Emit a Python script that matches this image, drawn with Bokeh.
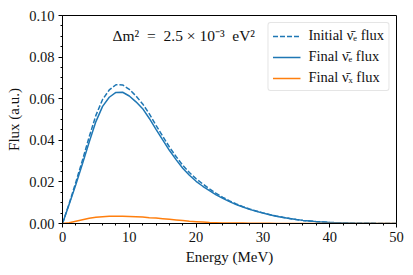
from bokeh.plotting import figure
from bokeh.models import FixedTicker, Label, Legend, LegendItem, NumeralTickFormatter
from bokeh.embed import file_html
from bokeh.resources import INLINE

energy = list(range(0, 51))
initial_flux = [0, 0.0096, 0.0199, 0.0306, 0.0417, 0.0520, 0.0596, 0.0642, 0.0667, 0.0666,
                0.0645, 0.0613, 0.0575, 0.0527, 0.0472, 0.0420, 0.0368, 0.0322, 0.0280, 0.0245,
                0.0215, 0.0190, 0.0166, 0.0145, 0.0126, 0.0109, 0.0094, 0.0081, 0.0070, 0.0060,
                0.0051, 0.0043, 0.0036, 0.0030, 0.0024, 0.0019, 0.0015, 0.0012, 0.0009, 0.0007,
                0.0005, 0.0004, 0.0003, 0.0002, 0.00015, 0.0001, 0.00008, 0.00006, 0.00004, 0.00003, 0.00002]
final_e_flux = [0, 0.0092, 0.0188, 0.0288, 0.0392, 0.0490, 0.0563, 0.0607, 0.0630, 0.0631,
                0.0613, 0.0585, 0.0552, 0.0505, 0.0453, 0.0402, 0.0352, 0.0307, 0.0266, 0.0232,
                0.0203, 0.0179, 0.0158, 0.0138, 0.0121, 0.0105, 0.0091, 0.0079, 0.0068, 0.0059,
                0.0050, 0.0042, 0.0035, 0.0029, 0.0024, 0.0019, 0.0015, 0.0012, 0.0009, 0.0007,
                0.0005, 0.0004, 0.0003, 0.0002, 0.00015, 0.0001, 0.00008, 0.00006, 0.00004, 0.00003, 0.00002]
final_x_flux = [0, 0.0004, 0.0011, 0.0018, 0.0025, 0.0030, 0.0033, 0.0035, 0.0035, 0.0035,
                0.0034, 0.0033, 0.0031, 0.0028, 0.0026, 0.0023, 0.0020, 0.0017, 0.0014, 0.0011,
                0.0009, 0.0007, 0.0005, 0.0004, 0.0003, 0.0003, 0.0002, 0.0002, 0.0001, 0.0001,
                0.0001, 0.00008, 0.00006, 0.00005, 0.00004, 0.00003, 0.00002, 0.00002, 0.00001, 0.00001,
                0, 0, 0, 0, 0, 0, 0, 0, 0, 0, 0]

series_labels = ["Initial \u03bd\u0304\u2091 flux", "Final \u03bd\u0304\u2091 flux", "Final \u03bd\u0304\u2093 flux"]
x_major = [0, 10, 20, 30, 40, 50]
x_minor = [v for v in range(0, 51, 2) if v % 10]
y_major = [0.0, 0.02, 0.04, 0.06, 0.08, 0.10]
y_minor = [round(0.005 * i, 3) for i in range(21) if i % 4]
annotation = "\u0394m\u00b2\u2002=\u20022.5\u2005\u00d7\u200510\u207b\u00b3\u2002eV\u00b2"

FONT = "Liberation Serif"
BLUE = "#1f77b4"
ORANGE = "#ff7f0e"
TXT = "#111111"

p = figure(width=405, height=268, output_backend="svg", toolbar_location=None,
           x_range=(0, 50), y_range=(0, 0.10),
           min_border_left=62, min_border_right=9, min_border_top=15, min_border_bottom=45)
p.grid.visible = False
p.outline_line_color = "black"
p.outline_line_width = 1
p.background_fill_color = "white"
p.border_fill_color = "white"

r1 = p.line(energy, initial_flux, line_color=BLUE, line_width=1.5, line_dash="5 2")
r2 = p.line(energy, final_e_flux, line_color=BLUE, line_width=1.5)
r3 = p.line(energy, final_x_flux, line_color=ORANGE, line_width=1.5)

for ax in (p.xaxis[0], p.yaxis[0]):
    ax.axis_line_color = "black"
    ax.major_tick_line_color = "black"
    ax.minor_tick_line_color = "black"
    ax.major_tick_in = 0
    ax.major_tick_out = 4
    ax.minor_tick_in = 0
    ax.minor_tick_out = 2
    ax.major_label_text_font = FONT
    ax.major_label_text_font_size = "14.5px"
    ax.major_label_text_color = TXT
    ax.axis_label_text_font = FONT
    ax.axis_label_text_font_size = "15px"
    ax.axis_label_text_font_style = "normal"
    ax.axis_label_text_color = TXT

p.xaxis.ticker = FixedTicker(ticks=x_major, minor_ticks=x_minor)
p.yaxis.ticker = FixedTicker(ticks=y_major, minor_ticks=y_minor)
p.yaxis.formatter = NumeralTickFormatter(format="0.00")
p.xaxis.axis_label = "Energy (MeV)"
p.yaxis.axis_label = "Flux (a.u.)"
p.xaxis.axis_label_standoff = 4
p.yaxis.axis_label_standoff = 4
p.xaxis.major_label_standoff = 4
p.yaxis.major_label_standoff = 4

legend = Legend(items=[LegendItem(label=series_labels[0], renderers=[r1]),
                       LegendItem(label=series_labels[1], renderers=[r2]),
                       LegendItem(label=series_labels[2], renderers=[r3])],
                location="top_right")
legend.label_text_font = FONT
legend.label_text_font_size = "14.5px"
legend.label_text_color = TXT
legend.glyph_width = 28
legend.glyph_height = 12
legend.label_height = 12
legend.spacing = 4
legend.padding = 4
legend.margin = 7
legend.label_standoff = 8
legend.border_line_color = "#cccccc"
legend.border_line_width = 1
legend.border_radius = 3
legend.background_fill_alpha = 0.8
p.add_layout(legend)

p.add_layout(Label(x=7.5, y=0.0905, text=annotation, text_font=FONT, text_font_size="15.5px",
                   text_baseline="middle", text_color=TXT))

open("out.html", "w").write(file_html(p, INLINE))
